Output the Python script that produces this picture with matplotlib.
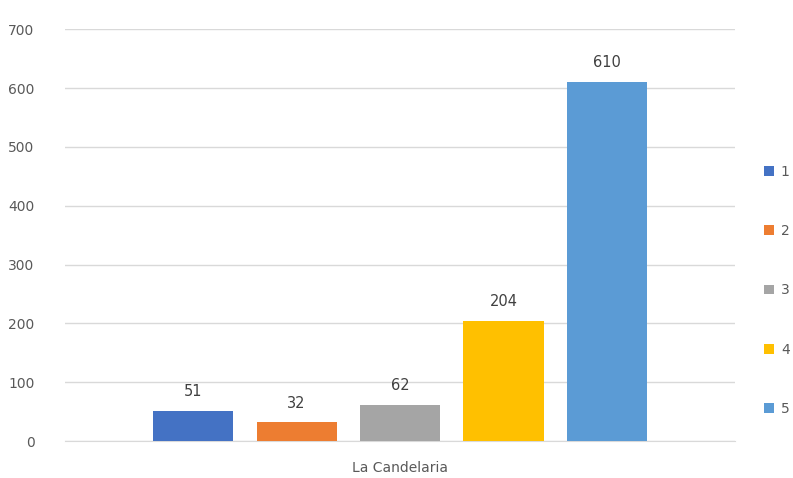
"""Bar chart for La Candelaria."""

import matplotlib.pyplot as plt
from matplotlib.patches import Patch

category = "La Candelaria"
series_labels = ["1", "2", "3", "4", "5"]
values = [51, 32, 62, 204, 610]
colors = ["#4472C4", "#ED7D31", "#A5A5A5", "#FFC000", "#5B9BD5"]

fig = plt.figure(figsize=(7.93, 4.78), dpi=100)
ax = fig.add_axes([0.082, 0.077, 0.845, 0.862])

positions = list(range(len(values)))
bars = ax.bar(positions, values, width=0.775, color=colors, zorder=3)
for bar, value in zip(bars, values):
    ax.text(
        bar.get_x() + bar.get_width() / 2,
        value + 20,
        str(value),
        ha="center",
        va="bottom",
        fontsize=10.5,
        color="#404040",
    )

ax.set_xlim(-1.24, 5.24)
ax.set_ylim(0, 700)
ax.set_yticks(range(0, 701, 100))
ax.yaxis.grid(True, color="#D9D9D9", linewidth=1, zorder=0)
ax.tick_params(axis="y", length=0, labelsize=10, labelcolor="#595959", pad=22)
ax.set_xticks([2])
ax.set_xticklabels([category])
ax.tick_params(axis="x", length=0, labelsize=10, labelcolor="#595959", pad=14)
for side in ("top", "right", "left"):
    ax.spines[side].set_visible(False)
ax.spines["bottom"].set_color("#D9D9D9")

handles = [Patch(facecolor=c, edgecolor="none") for c in colors]
fig.legend(
    handles,
    series_labels,
    loc="upper left",
    bbox_to_anchor=(0.948, 0.682),
    frameon=False,
    handlelength=0.7,
    handleheight=0.7,
    handletextpad=0.5,
    labelspacing=3.27,
    fontsize=10,
    labelcolor="#595959",
)

fig.savefig("out.png", dpi=100)
